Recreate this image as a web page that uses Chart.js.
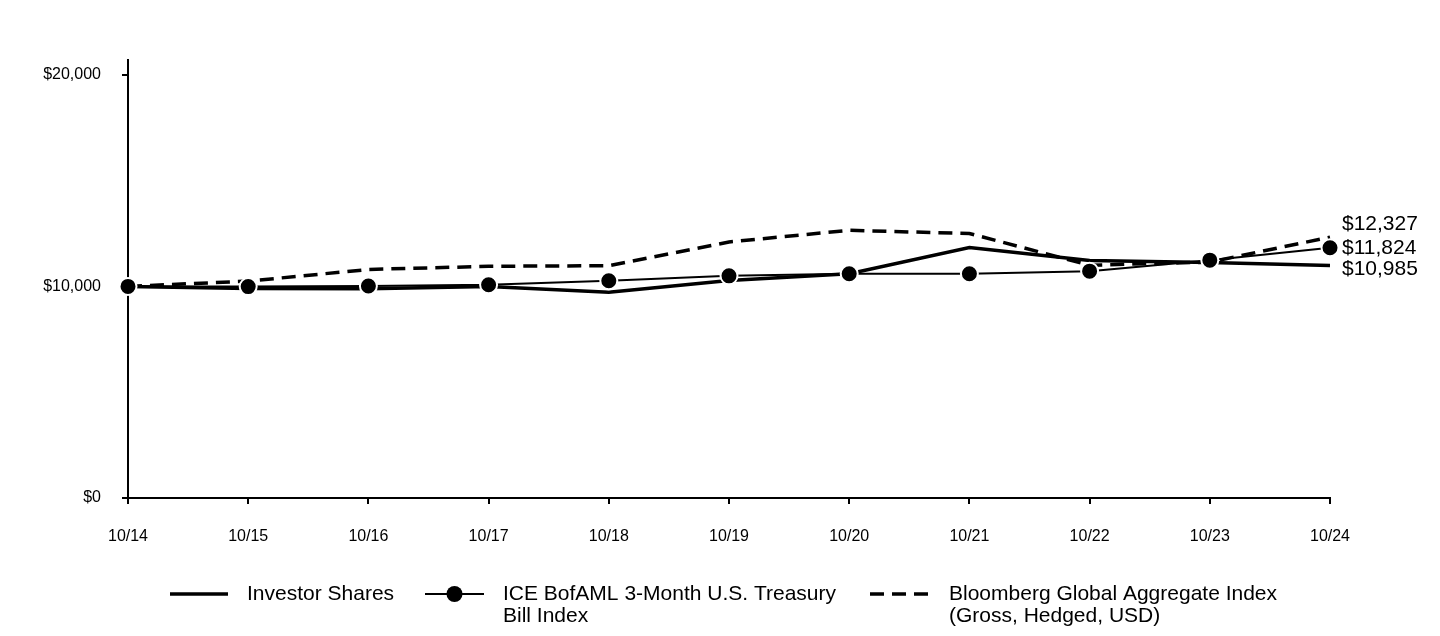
<!DOCTYPE html>
<html>
<head>
<meta charset="utf-8">
<script src="https://cdn.jsdelivr.net/npm/chart.js@4"></script>
<style>
html,body{margin:0;padding:0;background:#fff;}
#wrap{width:1440px;height:636px;position:relative;}
</style>
</head>
<body>
<div id="wrap"><canvas id="c" width="1440" height="636"></canvas></div>
<script>
const categories = ['10/14','10/15','10/16','10/17','10/18','10/19','10/20','10/21','10/22','10/23','10/24'];
const investorShares = [10000, 9900, 9890, 10000, 9720, 10280, 10600, 11840, 11230, 11130, 10985];
const iceBofAML = [10000, 9990, 10020, 10080, 10270, 10500, 10600, 10600, 10720, 11240, 11824];
const bloombergAgg = [10000, 10250, 10800, 10950, 10980, 12100, 12650, 12500, 11000, 11150, 12327];
const yTickValues = [0, 10000, 20000];
const seriesNames = ['Investor Shares', ['ICE BofAML 3-Month U.S. Treasury', 'Bill Index'], ['Bloomberg Global Aggregate Index', '(Gross, Hedged, USD)']];
const endLabels = ['$10,985', '$11,824', '$12,327'];

const FONT = "'Liberation Sans', Arial, Helvetica, sans-serif";
const fmt = v => '$' + v.toLocaleString('en-US');

const endLabelPlugin = {
  id: 'endLabels',
  afterDatasetsDraw(chart) {
    const ctx = chart.ctx;
    ctx.save();
    ctx.font = '21px ' + FONT;
    ctx.fillStyle = '#000';
    ctx.textAlign = 'left';
    ctx.textBaseline = 'middle';
    const offs = [4, 0, -13];
    [0, 1, 2].forEach((d, i) => {
      const meta = chart.getDatasetMeta(d);
      const pt = meta.data[meta.data.length - 1];
      ctx.fillText(endLabels[i], pt.x + 12, pt.y + offs[i]);
    });
    ctx.restore();
  }
};

const legendPlugin = {
  id: 'customLegend',
  afterDraw(chart) {
    const ctx = chart.ctx;
    ctx.save();
    ctx.font = '21px ' + FONT;
    ctx.fillStyle = '#000';
    ctx.textBaseline = 'middle';
    ctx.textAlign = 'left';
    const y = 594;
    ctx.strokeStyle = '#000';
    ctx.lineWidth = 3.5;
    ctx.setLineDash([]);
    ctx.beginPath(); ctx.moveTo(170, y); ctx.lineTo(228, y); ctx.stroke();
    ctx.fillText(seriesNames[0], 247, y);
    ctx.lineWidth = 2;
    ctx.beginPath(); ctx.moveTo(425, y); ctx.lineTo(484, y); ctx.stroke();
    ctx.beginPath(); ctx.arc(454.5, y, 8, 0, Math.PI * 2); ctx.fillStyle = '#000'; ctx.fill();
    ctx.fillText(seriesNames[1][0], 503, y);
    ctx.fillText(seriesNames[1][1], 503, y + 22);
    ctx.lineWidth = 3.5;
    ctx.setLineDash([14, 8]);
    ctx.beginPath(); ctx.moveTo(870, y); ctx.lineTo(932, y); ctx.stroke();
    ctx.setLineDash([]);
    ctx.fillText(seriesNames[2][0], 949, y);
    ctx.fillText(seriesNames[2][1], 949, y + 22);
    ctx.restore();
  }
};

new Chart(document.getElementById('c'), {
  type: 'line',
  data: {
    labels: categories,
    datasets: [
      {
        label: 'Investor Shares',
        data: investorShares,
        borderColor: '#000',
        borderWidth: 3.5,
        pointRadius: 0,
        tension: 0,
        order: 2
      },
      {
        label: 'ICE BofAML 3-Month U.S. Treasury Bill Index',
        data: iceBofAML,
        borderColor: '#000',
        borderWidth: 2,
        pointRadius: 8.5,
        pointBackgroundColor: '#000',
        pointBorderColor: '#fff',
        pointBorderWidth: 2,
        tension: 0,
        order: 0
      },
      {
        label: 'Bloomberg Global Aggregate Index (Gross, Hedged, USD)',
        data: bloombergAgg,
        borderColor: '#000',
        borderWidth: 3.5,
        borderDash: [14, 8],
        pointRadius: 0,
        tension: 0,
        order: 1
      }
    ]
  },
  options: {
    responsive: false,
    animation: false,
    devicePixelRatio: 1,
    layout: { padding: { left: 0, right: 110, top: 60, bottom: 0 } },
    plugins: { legend: { display: false }, tooltip: { enabled: false } },
    scales: {
      x: {
        offset: false,
        grid: { drawOnChartArea: false, drawTicks: true, tickLength: 6, color: '#000', lineWidth: 2 },
        border: { color: '#000', width: 2 },
        ticks: { color: '#000', font: { family: FONT, size: 16 }, padding: 23, maxRotation: 0, autoSkip: false },
        afterFit(s) { s.height = 138; }
      },
      y: {
        min: 0,
        max: 20700,
        afterBuildTicks(s) { s.ticks = yTickValues.map(v => ({ value: v })); },
        grid: { drawOnChartArea: false, drawTicks: true, tickLength: 6, color: '#000', lineWidth: 2 },
        border: { color: '#000', width: 2 },
        ticks: { color: '#000', font: { family: FONT, size: 16 }, padding: 21, callback: v => fmt(v) },
        afterFit(s) { s.width = 128; }
      }
    }
  },
  plugins: [endLabelPlugin, legendPlugin]
});
</script>
</body>
</html>
